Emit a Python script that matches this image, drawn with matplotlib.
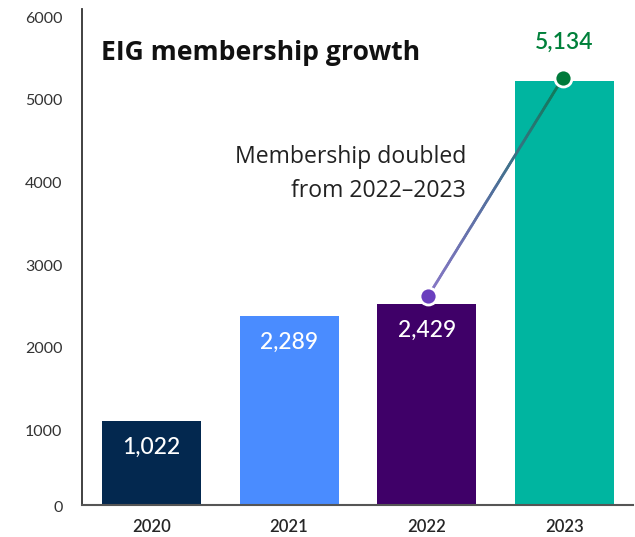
import matplotlib.pyplot as plt
import matplotlib.transforms as mtransforms
from matplotlib.collections import LineCollection
from matplotlib.colors import LinearSegmentedColormap
import numpy as np

plt.rcParams['font.family'] = ['Lato', 'DejaVu Sans']

years = ['2020', '2021', '2022', '2023']
members = [1022, 2289, 2429, 5134]
bar_colors = ['#03284f', '#4a8cff', '#3f0068', '#00b5a0']
yticks = [0, 1000, 2000, 3000, 4000, 5000, 6000]

fig = plt.figure(figsize=(6.35, 5.37), dpi=100)
ax = fig.add_axes([82 / 635, 32 / 537, 551 / 635, 495.6 / 537])

x = np.arange(len(years))
ax.bar(x, members, width=0.72, color=bar_colors, zorder=2)

ax.set_xlim(-0.505, 3.5)
ax.set_ylim(0, 6000)
ax.set_xticks(x)
ax.set_xticklabels(years, fontsize=12, fontweight='semibold', color='#262626')
ax.set_yticks(yticks)
ax.set_yticklabels([str(v) for v in yticks], fontsize=11.5, color='#333333')
ax.tick_params(axis='both', length=0)
ax.tick_params(axis='y', pad=14)
ax.tick_params(axis='x', pad=10)

for side in ('top', 'right'):
    ax.spines[side].set_visible(False)
ax.spines['left'].set_color('#333333')
ax.spines['left'].set_linewidth(1.3)
ax.spines['bottom'].set_color('#555555')
ax.spines['bottom'].set_linewidth(1.5)

# y labels sit a little below their gridline
for tick, val in zip(ax.yaxis.get_major_ticks(), yticks):
    dy = -2 if val == 0 else -8
    shift = mtransforms.ScaledTranslation(0, dy / 100, fig.dpi_scale_trans)
    tick.label1.set_transform(tick.label1.get_transform() + shift)

# values inside the first three bars
for i in range(3):
    ax.annotate(f'{members[i]:,}', (x[i], members[i]), xytext=(0, -19),
                textcoords='offset points', ha='center', va='center',
                color='white', fontsize=16.5, fontweight='medium', zorder=4)
ax.annotate(f'{members[3]:,}', (x[3], members[3]), xytext=(0, 28),
            textcoords='offset points', ha='center', va='center',
            color='#00803a', fontsize=16.5, fontweight='semibold', zorder=4)

# gradient connector between 2022 and 2023
p0 = ax.transData.transform((x[2] + 0.01, members[2]))
p1 = ax.transData.transform((x[3] - 0.01, members[3]))
p0[1] += 8
p1[1] += 3
pts = np.linspace(p0, p1, 120)
pts = ax.transData.inverted().transform(pts)
segs = np.stack([pts[:-1], pts[1:]], axis=1)
cmap = LinearSegmentedColormap.from_list('link', ['#8a78c8', '#4f6f9a', '#0b7a55'])
lc = LineCollection(segs, colors=cmap(np.linspace(0, 1, len(segs))),
                    linewidths=2, zorder=3, capstyle='round')
ax.add_collection(lc)
ax.scatter([pts[0][0]], [pts[0][1]], s=150, color='#6a3fbe', edgecolor='white',
           linewidth=2, zorder=5)
ax.scatter([pts[-1][0]], [pts[-1][1]], s=150, color='#007a3b', edgecolor='white',
           linewidth=2, zorder=5)

fig.text(101 / 635, 1 - 53 / 537, 'EIG membership growth', fontsize=19.1,
         fontweight='bold', family=['Open Sans', 'DejaVu Sans'],
         color='#111111', va='center', ha='left')
fig.text(466 / 635, 1 - 174 / 537, 'Membership doubled\nfrom 2022\u20132023',
         fontsize=16.6, family=['Open Sans', 'DejaVu Sans'],
         color='#222222', ha='right', va='center', linespacing=1.55)

fig.savefig('out.png', dpi=100)
